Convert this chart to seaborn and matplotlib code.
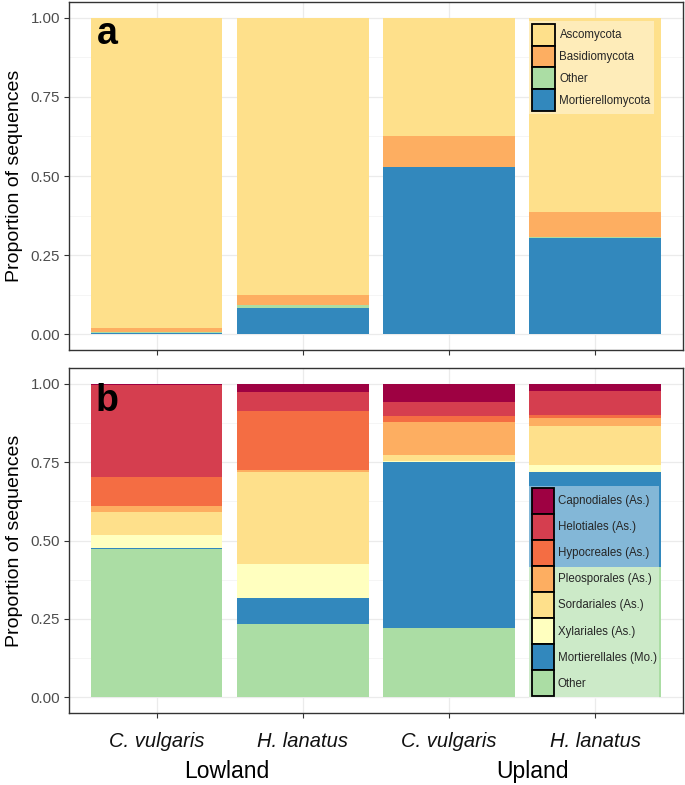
import matplotlib
matplotlib.use("Agg")
import matplotlib.pyplot as plt
import seaborn as sns
import numpy as np
from matplotlib.patches import Patch
from matplotlib.ticker import MultipleLocator

sns.set_style("white")
plt.rcParams['font.family'] = ['Liberation Sans', 'DejaVu Sans']

bars = ['Lowland C. vulgaris', 'Lowland H. lanatus', 'Upland C. vulgaris', 'Upland H. lanatus']
host_labels = ['C. vulgaris', 'H. lanatus', 'C. vulgaris', 'H. lanatus']
site_labels = ['Lowland', 'Upland']

# panel a: phyla, listed bottom -> top of stack
phyla = ['Mortierellomycota', 'Other', 'Basidiomycota', 'Ascomycota']
phyla_colors = ['#3288BD', '#ABDDA4', '#FDAE61', '#FEE08B']
mortierellomycota = [0.005, 0.083, 0.527, 0.305]
other_a = [0.001, 0.010, 0.002, 0.003]
basidiomycota = [0.012, 0.032, 0.096, 0.077]
ascomycota = [0.982, 0.875, 0.375, 0.615]

# panel b: orders, listed bottom -> top of stack
orders = ['Other', 'Mortierellales (Mo.)', 'Xylariales (As.)', 'Sordariales (As.)',
          'Pleosporales (As.)', 'Hypocreales (As.)', 'Helotiales (As.)', 'Capnodiales (As.)']
order_colors = ['#ABDDA4', '#3288BD', '#FFFFBF', '#FEE08B',
                '#FDAE61', '#F46D43', '#D53E4F', '#9E0142']
other_b = [0.472, 0.233, 0.220, 0.414]
mortierellales = [0.003, 0.083, 0.529, 0.305]
xylariales = [0.041, 0.110, 0.003, 0.023]
sordariales = [0.076, 0.291, 0.020, 0.124]
pleosporales = [0.017, 0.009, 0.107, 0.023]
hypocreales = [0.095, 0.187, 0.018, 0.012]
helotiales = [0.292, 0.059, 0.045, 0.076]
capnodiales = [0.004, 0.028, 0.058, 0.023]

phyla_vals = [mortierellomycota, other_a, basidiomycota, ascomycota]
order_vals = [other_b, mortierellales, xylariales, sordariales,
              pleosporales, hypocreales, helotiales, capnodiales]

fig = plt.figure(figsize=(6.85, 7.85), dpi=100)
ax_a = fig.add_axes([69/685, 1-350/785, 614/685, 348/785])
ax_b = fig.add_axes([69/685, 1-713/785, 614/685, 345/785])


def stacked(ax, layers, colors):
    cum = np.cumsum(np.array(layers), axis=0)
    # draw from top of stack downwards so lower layers overlay
    for i in range(len(layers) - 1, -1, -1):
        sns.barplot(x=bars, y=cum[i], color=colors[i], saturation=1, width=0.9,
                    linewidth=0, edgecolor='none', ax=ax, zorder=2)


def style(ax):
    ax.set_xlim(-0.6, 3.6)
    ax.set_ylim(-0.05, 1.05)
    ax.set_yticks([0, 0.25, 0.5, 0.75, 1.0])
    ax.set_yticklabels(['0.00', '0.25', '0.50', '0.75', '1.00'])
    ax.yaxis.set_minor_locator(MultipleLocator(0.125))
    ax.grid(True, which='major', color='#EBEBEB', lw=0.9, zorder=0)
    ax.grid(True, which='minor', axis='y', color='#F2F2F2', lw=0.5, zorder=0)
    ax.set_axisbelow(True)
    for s in ax.spines.values():
        s.set_color('#333333')
        s.set_linewidth(1.0)
    ax.tick_params(axis='both', which='major', length=3.5, width=0.8, color='#333333',
                   labelsize=10.8, labelcolor='#4D4D4D', pad=3, bottom=True, left=True)
    ax.tick_params(axis='y', which='minor', length=0)
    ax.set_ylabel('Proportion of sequences', fontsize=14, labelpad=5, color='black')
    ax.set_xlabel('')


stacked(ax_a, phyla_vals, phyla_colors)
style(ax_a)
ax_a.set_xticklabels([])
ax_a.text(-0.34, 0.95, 'a', fontsize=27, fontweight='bold', ha='center', va='center',
          color='black')

stacked(ax_b, order_vals, order_colors)
style(ax_b)
ax_b.set_xticks(range(4))
ax_b.set_xticklabels(host_labels, fontsize=14.5, style='italic', color='#111111')
ax_b.tick_params(axis='x', pad=10)
ax_b.text(-0.34, 0.945, 'b', fontsize=27, fontweight='bold', ha='center', va='center',
          color='black')
ax_b.text(0.48, -0.17, site_labels[0], fontsize=16.5, ha='center', va='center',
          color='black', transform=ax_b.get_xaxis_transform())
ax_b.text(2.57, -0.17, site_labels[1], fontsize=16.5, ha='center', va='center',
          color='black', transform=ax_b.get_xaxis_transform())

fig.align_ylabels([ax_a, ax_b])

# legends
h_a = [Patch(facecolor=phyla_colors[i], edgecolor='black', linewidth=1.3, label=phyla[i])
       for i in [3, 2, 1, 0]]
leg_a = ax_a.legend(handles=h_a, loc='upper left', bbox_to_anchor=(2.55, 0.99),
                    bbox_transform=ax_a.transData, borderaxespad=0, fontsize=8.3,
                    handlelength=2.0, handleheight=2.53, labelspacing=0.0,
                    handletextpad=0.35, borderpad=0.25, frameon=True, fancybox=False,
                    framealpha=0.4, facecolor='white', edgecolor='none')
leg_a.set_zorder(5)

h_b = [Patch(facecolor=order_colors[i], edgecolor='black', linewidth=1.3, label=orders[i])
       for i in range(7, -1, -1)]
leg_b = ax_b.legend(handles=h_b, loc='upper left', bbox_to_anchor=(2.55, 0.675),
                    bbox_transform=ax_b.transData, borderaxespad=0, fontsize=8.3,
                    handlelength=1.9, handleheight=3.1, labelspacing=0.0,
                    handletextpad=0.35, borderpad=0.2, frameon=True, fancybox=False,
                    framealpha=0.4, facecolor='white', edgecolor='none')
leg_b.set_zorder(5)

plt.savefig('out.png', dpi=100)
